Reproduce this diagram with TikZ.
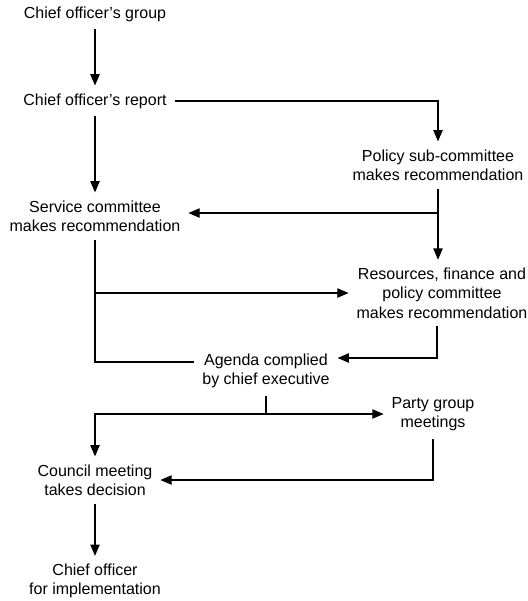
\documentclass[tikz,border=0pt]{standalone}
\usepackage{fontspec}
\setmainfont{Liberation Sans}
\usetikzlibrary{arrows.meta}
\begin{document}
\begin{tikzpicture}[x=0.75pt,y=-0.75pt,
  lbl/.style={font=\fontsize{12}{14.5}\selectfont, align=center, inner sep=0pt, outer sep=6pt},
  conn/.style={line width=0.9pt, line join=miter},
  arr/.style={conn, -{Triangle[length=8.5pt,width=7pt]}}]
\path[use as bounding box] (0,0) rectangle (528,601);
\node[lbl] (g)  at (95,14)  {Chief officer's group};
\node[lbl] (r)  at (95,101) {Chief officer's report};
\node[lbl] (p)  at (438,165) {Policy sub-committee\\makes recommendation};
\node[lbl] (s)  at (95,216) {Service committee\\makes recommendation};
\node[lbl] (rf) at (442,293) {Resources, finance and\\policy committee\\makes recommendation};
\node[lbl] (ag) at (266,371) {Agenda complied\\by chief executive};
\node[lbl] (pg) at (433,414) {Party group\\meetings};
\node[lbl] (cm) at (95,480) {Council meeting\\takes decision};
\node[lbl] (ci) at (95,581) {Chief officer\\for implementation};
\coordinate (sa) at (95,362);
\coordinate (ra) at (437,358);
\coordinate (pj) at (438,213);
\coordinate (agj) at (266,414);
\draw[arr] (g) -- (r);
\draw[arr] (r) -- (s);
\draw[arr] (r.east) -| (p.north);
\draw[arr] (p.south) -- (p.south |- rf.north);
\draw[arr] (pj) -- (pj -| s.east);
\draw[conn] (s.south) -- (sa) -- (sa -| ag.west);
\draw[arr] (s.south |- rf.west) -- (rf.west);
\draw[arr] (rf.south -| ra) -- (ra) -- (ra -| ag.east);
\draw[conn] (ag.south) -- (agj);
\draw[arr] (agj) -- (agj -| pg.west);
\draw[arr] (agj) -| (cm.north);
\draw[arr] (pg.south) |- (cm.east);
\draw[arr] (cm) -- (ci);
\end{tikzpicture}
\end{document}
